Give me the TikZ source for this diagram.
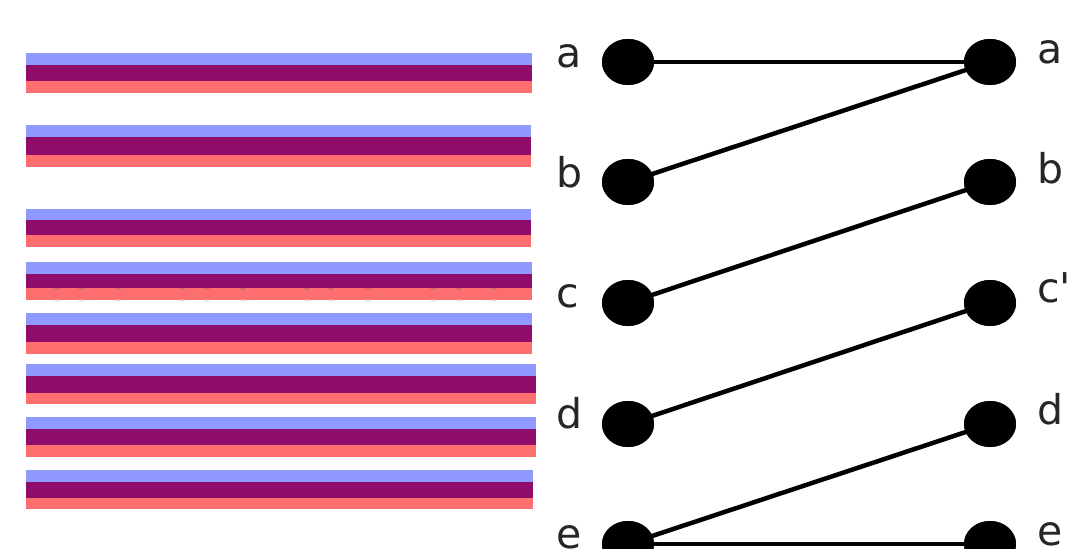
\documentclass[tikz,border=0pt]{standalone}
\usepackage{fontspec}
\newfontfamily\lblfont[Ligatures=ResetAll]{DejaVu Sans}
\usetikzlibrary{shapes.geometric}
\definecolor{stripeblue}{RGB}{144,153,255}
\definecolor{stripepurple}{RGB}{144,12,106}
\definecolor{stripered}{RGB}{255,110,110}
\tikzset{
  dot/.style={ellipse, fill=black, draw=none, minimum width=52pt, minimum height=46pt, inner sep=0pt},
  tag/.style={font=\lblfont\fontsize{41}{41}\selectfont, text=black!85, inner sep=0pt},
  link/.style={line width=4.5pt, black},
  speck/.style={fill=black!60, opacity=0.35}
}
% one strand of three stripes: x-end, blue top, purple top, red top, bottom
\newcommand{\strand}[5]{%
  \fill[stripeblue]   (26,#2) rectangle (#1,#3);
  \fill[stripepurple] (26,#3) rectangle (#1,#4);
  \fill[stripered]    (26,#4) rectangle (#1,#5);
}
\begin{document}
\begin{tikzpicture}[x=1pt, y=-1pt]
\useasboundingbox (0,0) rectangle (1069,549);
\fill[white] (0,0) rectangle (1069,549);

% stacked strands
\strand{532}{53}{65}{81}{93}
\strand{531}{125}{137}{155}{167}
\strand{531}{209}{220}{235}{247}
\strand{532}{262}{274}{288}{300}
\strand{532}{313}{325}{342}{354}
\strand{536}{364}{376}{393}{404}
\strand{536}{417}{429}{445}{457}
\strand{533}{470}{482}{498}{509}

% faint specks along the fourth strand
\foreach \x in {57,81,118,182,207,243,307,331,368,433,459,494}{
  \fill[speck] (\x,288.5) ellipse (3pt and 1pt);
  \fill[black!12] (\x,300.5) ellipse (3pt and 1pt);
}

% left column
\node[dot] (la) at (628,62) {};
\node[dot] (lb) at (628,182) {};
\node[dot] (lc) at (628,303) {};
\node[dot] (ld) at (628,424) {};
\node[dot] (le) at (628,544) {};
% right column
\node[dot] (ra) at (990,62) {};
\node[dot] (rb) at (990,182) {};
\node[dot] (rc) at (990,303) {};
\node[dot] (rd) at (990,424) {};
\node[dot] (re) at (990,544) {};

% connectors
\draw[link] (la.center) -- (ra.center);
\draw[link] (lb.center) -- (ra.center);
\draw[link] (lc.center) -- (rb.center);
\draw[link] (ld.center) -- (rc.center);
\draw[link] (le.center) -- (rd.center);
\draw[link] (le.center) -- (re.center);
% redraw dots over the line ends
\foreach \n in {la,lb,lc,ld,le,ra,rb,rc,rd,re}{
  \fill[black] (\n.center) ellipse (26pt and 23pt);
}

% labels
\node[tag, anchor=base west] (tla) at (556,67) {a};
\node[tag, anchor=base west] (tlb) at (556,187) {b};
\node[tag, anchor=base west] (tlc) at (556,307) {c};
\node[tag, anchor=base west] (tld) at (556,428) {d};
\node[tag, anchor=base west] (tle) at (556,548) {e};
\node[tag, anchor=base west] (tra) at (1037,63) {a};
\node[tag, anchor=base west] (trb) at (1037,183) {b};
\node[tag, anchor=base west] (trc) at (1037,302) {c'};
\node[tag, anchor=base west] (trd) at (1037,424) {d};
\node[tag, anchor=base west] (tre) at (1037,545) {e};
\end{tikzpicture}
\end{document}
